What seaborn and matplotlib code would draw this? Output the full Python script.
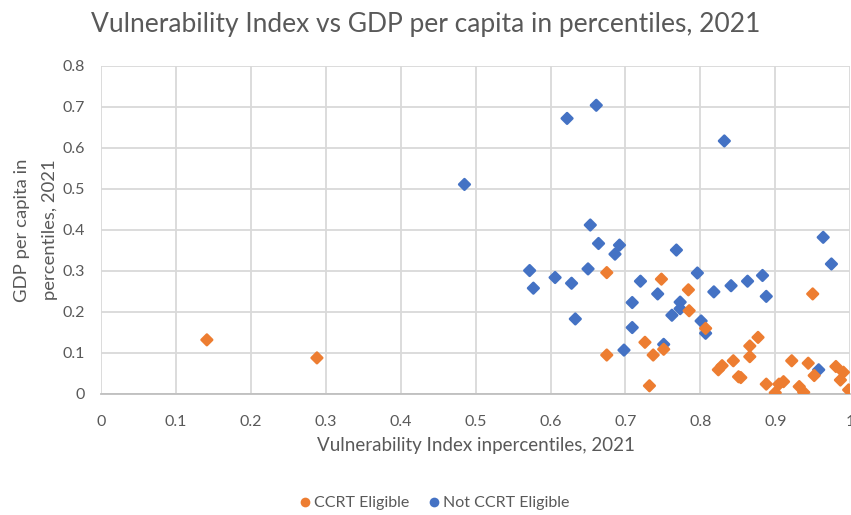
import matplotlib
matplotlib.use("Agg")
import matplotlib.pyplot as plt
from matplotlib.lines import Line2D
import seaborn as sns
import pandas as pd

# Vulnerability index (x) and GDP per capita (y), both in percentiles, 2021
eligible_vuln = [0.141, 0.288, 0.675, 0.748, 0.784, 0.785, 0.807, 0.950, 0.675, 0.726,
                 0.737, 0.751, 0.732, 0.877, 0.866, 0.866, 0.844, 0.829, 0.824, 0.851,
                 0.854, 0.888, 0.900, 0.905, 0.911, 0.922, 0.932, 0.938, 0.944, 0.952,
                 0.981, 0.991, 0.987, 0.998]
eligible_gdp = [0.132, 0.088, 0.296, 0.280, 0.254, 0.203, 0.160, 0.244, 0.095, 0.126,
                0.095, 0.109, 0.020, 0.138, 0.117, 0.091, 0.081, 0.069, 0.059, 0.042,
                0.040, 0.024, 0.003, 0.024, 0.030, 0.081, 0.018, 0.004, 0.075, 0.045,
                0.067, 0.053, 0.034, 0.010]

not_eligible_vuln = [0.485, 0.622, 0.661, 0.832, 0.653, 0.664, 0.692, 0.686, 0.768, 0.572,
                     0.577, 0.606, 0.628, 0.650, 0.633, 0.720, 0.743, 0.709, 0.773, 0.773,
                     0.762, 0.796, 0.709, 0.801, 0.807, 0.698, 0.751, 0.818, 0.841, 0.863,
                     0.883, 0.888, 0.964, 0.975, 0.958]
not_eligible_gdp = [0.511, 0.672, 0.704, 0.617, 0.412, 0.367, 0.363, 0.341, 0.351, 0.301,
                    0.258, 0.284, 0.270, 0.305, 0.183, 0.275, 0.244, 0.223, 0.224, 0.208,
                    0.192, 0.295, 0.162, 0.178, 0.148, 0.107, 0.121, 0.249, 0.264, 0.275,
                    0.289, 0.238, 0.382, 0.317, 0.059]

group_names = ["CCRT Eligible", "Not CCRT Eligible"]
group_colors = ["#ED7D31", "#4472C4"]
x_ticks = [0, 0.1, 0.2, 0.3, 0.4, 0.5, 0.6, 0.7, 0.8, 0.9, 1]
y_ticks = [0, 0.1, 0.2, 0.3, 0.4, 0.5, 0.6, 0.7, 0.8]

df = pd.DataFrame({
    "vuln": not_eligible_vuln + eligible_vuln,
    "gdp": not_eligible_gdp + eligible_gdp,
    "group": [group_names[1]] * len(not_eligible_vuln) + [group_names[0]] * len(eligible_vuln),
})

sns.set_theme(style="white")
plt.rcParams["font.family"] = ["Lato", "DejaVu Sans"]
text_grey = "#595959"

fig = plt.figure(figsize=(8.51, 5.15), dpi=100)
ax = fig.add_axes([0.119, 0.235, 0.88, 0.637])

# rounded diamonds: the edge stroke in the fill colour softens the corners
sns.scatterplot(data=df, x="vuln", y="gdp", hue="group",
                hue_order=group_names[::-1], palette=group_colors[::-1],
                marker="D", s=30, edgecolor="face", linewidth=1.8,
                ax=ax, legend=False, zorder=3)

ax.set_xlim(0, 1)
ax.set_ylim(0, 0.8)
ax.set_xticks(x_ticks)
ax.set_yticks(y_ticks)
ax.set_xticklabels([f"{t:g}" for t in x_ticks])
ax.set_yticklabels([f"{t:g}" for t in y_ticks])
ax.grid(True, color="#D9D9D9", linewidth=1.3)
ax.set_axisbelow(True)
for side in ["top", "right", "left"]:
    ax.spines[side].set_visible(False)
ax.spines["bottom"].set_color("#BFBFBF")
ax.spines["bottom"].set_linewidth(1.3)
ax.tick_params(axis="both", length=0, labelsize=11.5, colors=text_grey)
ax.tick_params(axis="x", pad=15)
ax.tick_params(axis="y", pad=12)

ax.set_xlabel("Vulnerability Index inpercentiles, 2021", fontsize=13.5,
              color=text_grey, labelpad=6)
ax.set_ylabel("GDP per capita in\npercentiles, 2021", fontsize=13.3,
              color=text_grey, labelpad=3, linespacing=1.9)

fig.text(0.5, 0.952, "Vulnerability Index vs GDP per capita in percentiles, 2021",
         ha="center", va="center", fontsize=19, color=text_grey)

handles = [Line2D([], [], marker="o", linestyle="", markersize=7,
                  markerfacecolor=c, markeredgewidth=0) for c in group_colors]
fig.legend(handles, group_names, loc="center", bbox_to_anchor=(0.508, 0.023),
           ncol=2, frameon=False, fontsize=11.5, labelcolor=text_grey,
           handletextpad=0.0, columnspacing=0.9, handlelength=1.2)

fig.savefig("out.png", dpi=100)
